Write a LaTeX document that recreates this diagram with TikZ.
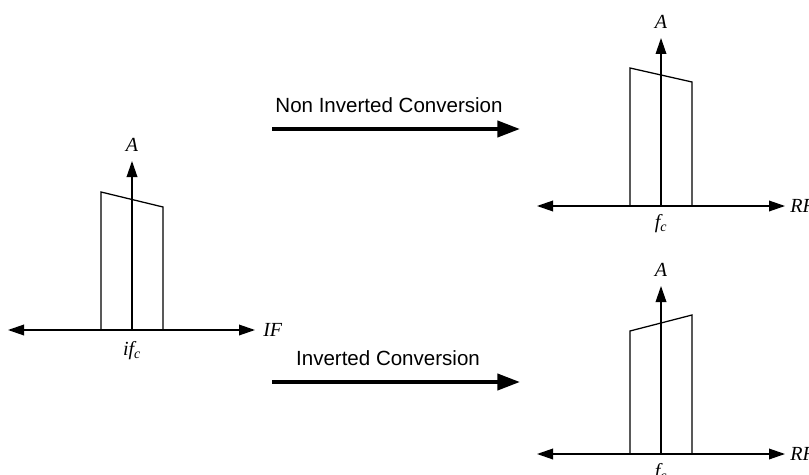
\documentclass[tikz,border=0pt]{standalone}
\usepackage{fontspec}
\setmainfont{Liberation Serif}
\newfontfamily\arialfont{Liberation Sans}
\usetikzlibrary{arrows.meta}
\begin{document}
\begin{tikzpicture}[x=0.75pt,y=-0.75pt,
  axis/.style={line width=1pt, {Triangle[length=12pt,width=8pt]}-{Triangle[length=12pt,width=8pt]}},
  vaxis/.style={line width=1pt, -{Triangle[length=12pt,width=8pt]}},
  band/.style={line width=0.95pt, line join=miter},
  conv/.style={line width=3pt, -{Triangle[length=17pt,width=12pt]}},
  lbl/.style={font=\fontsize{15}{16}\selectfont\itshape, inner sep=0pt},
  convlbl/.style={font=\arialfont\fontsize{15.4}{18}\selectfont, inner sep=0pt}]
\useasboundingbox (0,0) rectangle (809,474);

% ---- left (IF) spectrum ----
\coordinate (L-l) at (8,330);
\coordinate (L-r) at (255,330);
\coordinate (L-o) at (132,330);
\coordinate (L-t) at (132,161);
\draw[band] (101,330) -- (101,192) -- (163,207) -- (163,330);
\draw[axis] (L-l) -- (L-r);
\draw[vaxis] (L-o) -- (L-t);
\node[lbl] (L-A) at (132,145) {A};
\node[lbl,anchor=west] (L-IF) at (263,330) {IF};
\node[lbl] (L-fc) at (132,351) {if\textsubscript{c}};

% ---- top right (non inverted) ----
\coordinate (T-l) at (537,206);
\coordinate (T-r) at (785,206);
\coordinate (T-o) at (661,206);
\coordinate (T-t) at (661,38);
\draw[band] (630,206) -- (630,68) -- (692,82) -- (692,206);
\draw[axis] (T-l) -- (T-r);
\draw[vaxis] (T-o) -- (T-t);
\node[lbl] (T-A) at (661,22) {A};
\node[lbl,anchor=west] (T-RF) at (790,206) {RF};
\node[lbl] (T-fc) at (661,224) {f\textsubscript{c}};

% ---- bottom right (inverted) ----
\coordinate (B-l) at (537,454);
\coordinate (B-r) at (785,454);
\coordinate (B-o) at (661,454);
\coordinate (B-t) at (661,286);
\draw[band] (630,454) -- (630,331) -- (692,315) -- (692,454);
\draw[axis] (B-l) -- (B-r);
\draw[vaxis] (B-o) -- (B-t);
\node[lbl] (B-A) at (661,270) {A};
\node[lbl,anchor=west] (B-RF) at (790,454) {RF};
\node[lbl] (B-fc) at (661,473) {f\textsubscript{c}};

% ---- conversion arrows ----
\coordinate (C1-s) at (272,129);
\coordinate (C1-e) at (520,129);
\draw[conv] (C1-s) -- (C1-e);
\node[convlbl] (C1-lbl) at (389,105) {Non Inverted Conversion};
\coordinate (C2-s) at (272,382);
\coordinate (C2-e) at (520,382);
\draw[conv] (C2-s) -- (C2-e);
\node[convlbl] (C2-lbl) at (388,358) {Inverted Conversion};
\end{tikzpicture}
\end{document}
